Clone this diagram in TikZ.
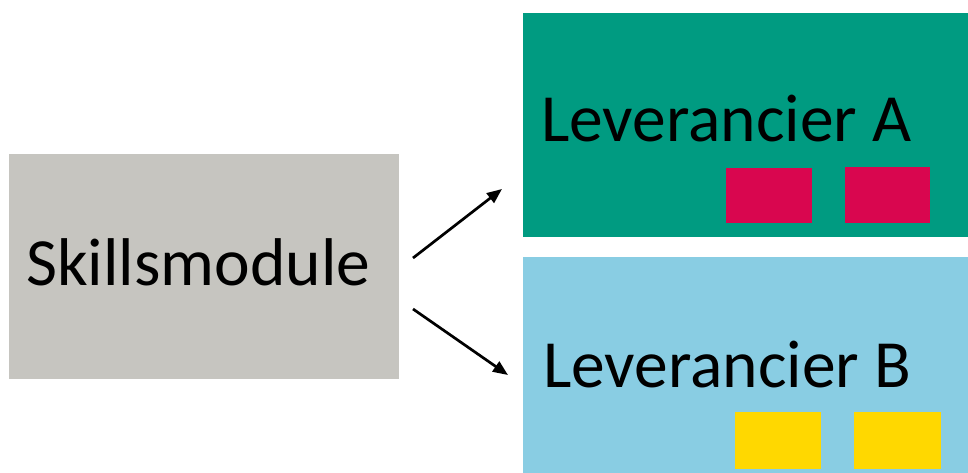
\documentclass[tikz,border=0pt]{standalone}
\usepackage{fontspec}
\setmainfont{Carlito}
\usetikzlibrary{arrows.meta}
\definecolor{grayc}{HTML}{C6C5C0}
\definecolor{greenc}{HTML}{009B81}
\definecolor{bluec}{HTML}{89CDE3}
\definecolor{magc}{HTML}{D9064F}
\definecolor{yelc}{HTML}{FFD800}
\tikzset{
  lbl/.style={anchor=base west, inner sep=0pt, font=\fontsize{67.5}{67.5}\selectfont},
  arr/.style={line width=2.7pt, -{Triangle[length=15pt,width=12pt]}},
}
\begin{document}
\begin{tikzpicture}[x=1pt,y=-1pt]
\useasboundingbox (0,0) rectangle (968,473);
\begin{scope}
\clip (0,0) rectangle (968,473);
\fill[grayc] (9,154) rectangle (399,379);
\fill[greenc] (523,13) rectangle (970,237);
\fill[bluec] (523,257) rectangle (970,480);
\fill[magc] (726,168) rectangle (812,223);
\fill[magc] (845,167) rectangle (930,223);
\fill[yelc] (735,412) rectangle (821,469);
\fill[yelc] (854,412) rectangle (941,469);
\end{scope}
\node[lbl] (skills) at (26,285) {Skillsmodule};
\node[lbl] (levA) at (541,142) {Leverancier A};
\node[lbl] (levB) at (543,387) {Leverancier B};
\coordinate (s1) at (413,258);
\coordinate (t1) at (502,189);
\coordinate (s2) at (413,309);
\coordinate (t2) at (508,375);
\draw[arr] (s1) -- (t1);
\draw[arr] (s2) -- (t2);
\end{tikzpicture}
\end{document}
